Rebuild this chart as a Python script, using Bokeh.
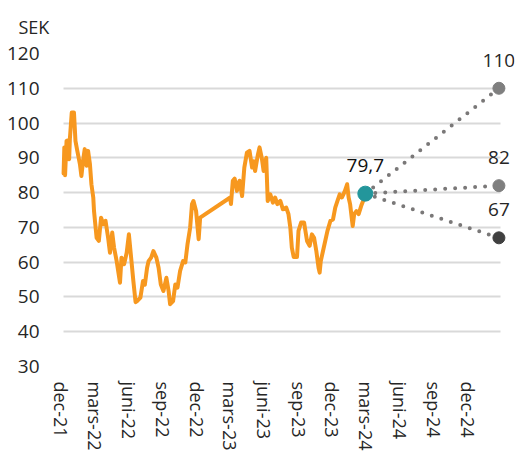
import math
import pandas as pd
from bokeh.plotting import figure
from bokeh.models import Range1d, FixedTicker, CustomJSTickFormatter, ColumnDataSource
from bokeh.embed import file_html
from bokeh.resources import INLINE
from bokeh.core.properties import value

# ---------------- data ----------------
price_dates = [
    "2021-12-07", "2021-12-09", "2021-12-11", "2021-12-15", "2021-12-18", "2021-12-22", "2021-12-24",
    "2021-12-29", "2022-01-04", "2022-01-08", "2022-01-13", "2022-01-20", "2022-01-24", "2022-01-29",
    "2022-02-02", "2022-02-07", "2022-02-11", "2022-02-16", "2022-02-20", "2022-02-25", "2022-02-27",
    "2022-03-06", "2022-03-12", "2022-03-18", "2022-03-24", "2022-03-30", "2022-04-06", "2022-04-11",
    "2022-04-17", "2022-04-22", "2022-04-29", "2022-05-08", "2022-05-12", "2022-05-19", "2022-05-26",
    "2022-06-01", "2022-06-07", "2022-06-13", "2022-06-19", "2022-06-23", "2022-07-02", "2022-07-09",
    "2022-07-14", "2022-07-20", "2022-07-24", "2022-07-31", "2022-08-06", "2022-08-14", "2022-08-20",
    "2022-08-26", "2022-09-02", "2022-09-10", "2022-09-16", "2022-09-20", "2022-09-28", "2022-10-04",
    "2022-10-10", "2022-10-17", "2022-10-25", "2022-10-31", "2022-11-06", "2022-11-13", "2022-11-18",
    "2022-11-22", "2022-11-29", "2022-12-06", "2022-12-10", "2022-12-17",
    "2023-03-01", "2023-03-03", "2023-03-08", "2023-03-13", "2023-03-19", "2023-03-26", "2023-04-02",
    "2023-04-08", "2023-04-15", "2023-04-22", "2023-04-29", "2023-05-03", "2023-05-07", "2023-05-14",
    "2023-05-19", "2023-05-25", "2023-05-30", "2023-06-06", "2023-06-10", "2023-06-17", "2023-06-24",
    "2023-06-30", "2023-07-06", "2023-07-14", "2023-07-21", "2023-07-30", "2023-08-05", "2023-08-10",
    "2023-08-14", "2023-08-19", "2023-08-28", "2023-09-01", "2023-09-08", "2023-09-16", "2023-09-24",
    "2023-10-01", "2023-10-07", "2023-10-13", "2023-10-19", "2023-10-25", "2023-10-28", "2023-10-31",
    "2023-11-06", "2023-11-12", "2023-11-18", "2023-11-26", "2023-12-03", "2023-12-09", "2023-12-15",
    "2023-12-21", "2023-12-27", "2023-12-31", "2024-01-04", "2024-01-10", "2024-01-14", "2024-01-18",
    "2024-01-25", "2024-01-29", "2024-02-04", "2024-02-10", "2024-02-17", "2024-02-22", "2024-02-28",
]
price_values = [
    85.5, 93.0, 85.0, 94.9, 95.0, 89.6, 95.5,
    103.0, 103.0, 94.9, 92.0, 88.2, 84.8, 89.6,
    92.5, 87.7, 92.0, 88.2, 82.4, 78.6, 74.7,
    67.0, 66.1, 72.8, 70.9, 71.9, 67.0, 62.7,
    68.5, 64.2, 60.3, 54.1, 61.3, 59.4, 62.7,
    68.0, 61.3, 54.6, 48.5, 48.8, 49.8, 54.6,
    53.5, 58.4, 60.3, 61.3, 63.2, 61.3, 58.4,
    53.6, 51.7, 55.5, 51.7, 47.9, 48.8, 53.6,
    52.7, 57.5, 60.3, 59.9, 65.2, 69.9, 76.7,
    77.6, 74.7, 66.6, 72.8, 73.3,
    78.6, 76.7, 83.4, 84.0, 80.5, 83.4, 79.0,
    87.2, 91.5, 92.0, 87.2, 89.0, 86.2, 90.6,
    93.0, 90.0, 86.2, 90.0, 77.6, 79.5, 77.1,
    78.6, 76.7, 77.6, 75.2, 75.7, 73.8, 69.9,
    64.2, 61.5, 61.5, 69.0, 71.4, 71.4, 66.1,
    64.7, 68.0, 67.0, 63.2, 58.4, 57.0, 60.3,
    63.2, 66.1, 69.0, 71.9, 72.3, 75.7, 77.6,
    79.5, 78.6, 79.5, 80.5, 82.4, 78.6, 76.7,
    70.4, 73.8, 74.7, 73.8, 76.2, 77.6, 79.7,
]

current_date = "2024-02-28"
current_price = 79.7
current_label = "79,7"

target_date = "2025-02-22"
target_values = [110, 82, 67]
target_labels = ["110", "82", "67"]
target_colors = ["#7f7f7f", "#7f7f7f", "#404040"]

tick_dates = ["2021-12-01", "2022-03-01", "2022-06-01", "2022-09-01", "2022-12-01",
              "2023-03-01", "2023-06-01", "2023-09-01", "2023-12-01", "2024-03-01",
              "2024-06-01", "2024-09-01", "2024-12-01"]
tick_labels = ["dec-21", "mars-22", "juni-22", "sep-22", "dec-22", "mars-23", "juni-23",
               "sep-23", "dec-23", "mars-24", "juni-24", "sep-24", "dec-24"]

y_ticks = [30, 40, 50, 60, 70, 80, 90, 100, 110, 120]
unit_label = "SEK"

# ---------------- helpers ----------------
def ms(d):
    return pd.Timestamp(d).value / 1e6

FONT = "Open Sans"
TXT = "#262626"
ORANGE = "#f7981f"
TEAL = "#23969b"
DOT = "#7a7878"

p = figure(width=515, height=453, x_axis_type="datetime",
           x_range=Range1d(ms("2021-11-26"), ms("2025-04-05")),
           y_range=Range1d(30, 120),
           output_backend="svg", toolbar_location=None,
           min_border_left=59, min_border_right=1, min_border_top=53, min_border_bottom=10)
p.outline_line_color = None
p.background_fill_color = "white"
p.border_fill_color = "white"

# unit title
p.title.text = unit_label
p.title.align = "left"
p.title.vertical_align = "top"
p.title.offset = -41
p.title.standoff = 25
p.title.text_font = FONT
p.title.text_font_size = "18px"
p.title.text_font_style = "normal"
p.title.text_color = TXT

# axes
p.xaxis.ticker = FixedTicker(ticks=[ms(d) for d in tick_dates])
p.xaxis.formatter = CustomJSTickFormatter(
    args=dict(tvals=[ms(d) for d in tick_dates], tlabs=tick_labels),
    code="const i = tvals.indexOf(tick); return i >= 0 ? tlabs[i] : '';")
p.xaxis.major_label_orientation = -math.pi / 2
p.xaxis.major_label_text_font = FONT
p.xaxis.major_label_text_font_size = "18px"
p.xaxis.major_label_text_color = TXT
p.xaxis.major_label_standoff = 9
p.xaxis.axis_line_color = None
p.xaxis.major_tick_line_color = None
p.xaxis.minor_tick_line_color = None

p.yaxis.ticker = FixedTicker(ticks=y_ticks)
p.yaxis.major_label_text_font = FONT
p.yaxis.major_label_text_font_size = "19px"
p.yaxis.major_label_text_color = TXT
p.yaxis.major_label_standoff = 14
p.yaxis.axis_line_color = None
p.yaxis.major_tick_line_color = None
p.yaxis.minor_tick_line_color = None

p.xgrid.grid_line_color = None
p.ygrid.grid_line_color = "#d9d9d9"
p.ygrid.grid_line_width = 2
p.ygrid.cross_bounds = (ms("2021-12-07"), ms("2025-02-27"))

# price line
src = ColumnDataSource(dict(x=pd.to_datetime(price_dates), y=price_values))
p.line("x", "y", source=src, line_color=ORANGE, line_width=4, line_join="round", line_cap="round")

# projection dotted lines
n = len(target_values)
p.multi_line(xs=[[pd.Timestamp(current_date), pd.Timestamp(target_date)] for _ in range(n)],
             ys=[[current_price, v] for v in target_values],
             line_color=DOT, line_width=4, line_dash="0 10", line_cap="round")

# target points
tsrc = ColumnDataSource(dict(x=[pd.Timestamp(target_date)] * n, y=target_values,
                             c=target_colors, t=target_labels))
p.scatter("x", "y", source=tsrc, size=12, fill_color="c", line_color="c")
p.text("x", "y", text="t", source=tsrc, text_align="center", text_baseline="alphabetic",
       y_offset=-28, text_font=value(FONT), text_font_size="19px", text_color=TXT)

# current point
csrc = ColumnDataSource(dict(x=[pd.Timestamp(current_date)], y=[current_price], t=[current_label]))
p.scatter("x", "y", source=csrc, size=15, fill_color=TEAL, line_color=TEAL)
p.text("x", "y", text="t", source=csrc, text_align="center", text_baseline="alphabetic",
       y_offset=-28, text_font=value(FONT), text_font_size="19px", text_color="#111111")

open("out.html", "w").write(file_html(p, INLINE))
